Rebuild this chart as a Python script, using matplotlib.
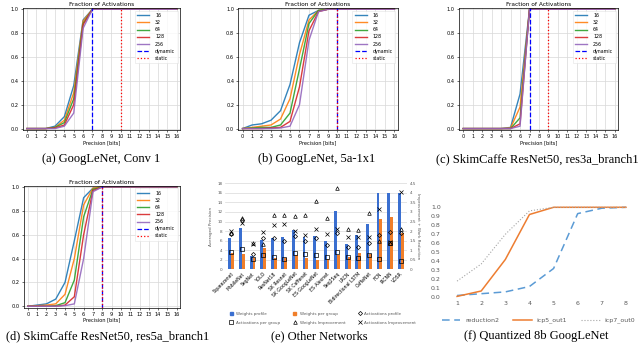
import matplotlib
matplotlib.use('Agg')
import matplotlib.pyplot as plt
from matplotlib.lines import Line2D
from matplotlib.patches import Patch

W, H = 640, 344

bits = [0, 1, 2, 3, 4, 5, 6, 7, 8, 9, 10, 11, 12, 13, 14, 15, 16]
group_labels = ['16', '32', '64', '128', '256']

# (a) GoogLeNet, Conv 1
conv1 = [
    [0, 0, 0, 0.02, 0.10, 0.36, 0.91, 1, 1, 1, 1, 1, 1, 1, 1, 1, 1],
    [0, 0, 0, 0.01, 0.07, 0.30, 0.90, 1, 1, 1, 1, 1, 1, 1, 1, 1, 1],
    [0, 0, 0, 0.01, 0.05, 0.25, 0.88, 1, 1, 1, 1, 1, 1, 1, 1, 1, 1],
    [0, 0, 0, 0.005, 0.03, 0.20, 0.87, 1, 1, 1, 1, 1, 1, 1, 1, 1, 1],
    [0, 0, 0, 0, 0.02, 0.13, 0.84, 1, 1, 1, 1, 1, 1, 1, 1, 1, 1],
]
conv1_dyn, conv1_static = 7, 10

# (b) GoogLeNet, 5a-1x1
inc5a = [
    [0, 0.03, 0.04, 0.07, 0.15, 0.37, 0.72, 0.95, 0.99, 1, 1, 1, 1, 1, 1, 1, 1],
    [0, 0.01, 0.02, 0.03, 0.08, 0.25, 0.62, 0.91, 0.99, 1, 1, 1, 1, 1, 1, 1, 1],
    [0, 0.005, 0.01, 0.01, 0.03, 0.13, 0.50, 0.88, 0.99, 1, 1, 1, 1, 1, 1, 1, 1],
    [0, 0, 0, 0.005, 0.01, 0.06, 0.35, 0.82, 0.98, 1, 1, 1, 1, 1, 1, 1, 1],
    [0, 0, 0, 0, 0.005, 0.02, 0.20, 0.74, 0.98, 1, 1, 1, 1, 1, 1, 1, 1],
]
inc5a_dyn, inc5a_static = 10, 10

# (c) SkimCaffe ResNet50, res3a_branch1
res3a = [
    [0, 0, 0, 0, 0, 0.01, 0.29, 1, 1, 1, 1, 1, 1, 1, 1, 1, 1],
    [0, 0, 0, 0, 0, 0.005, 0.18, 1, 1, 1, 1, 1, 1, 1, 1, 1, 1],
    [0, 0, 0, 0, 0, 0, 0.09, 1, 1, 1, 1, 1, 1, 1, 1, 1, 1],
    [0, 0, 0, 0, 0, 0, 0.04, 1, 1, 1, 1, 1, 1, 1, 1, 1, 1],
    [0, 0, 0, 0, 0, 0, 0.02, 1, 1, 1, 1, 1, 1, 1, 1, 1, 1],
]
res3a_dyn, res3a_static = 7, 9

# (d) SkimCaffe ResNet50, res5a_branch1
res5a = [
    [0, 0.01, 0.02, 0.06, 0.20, 0.55, 0.91, 0.99, 1, 1, 1, 1, 1, 1, 1, 1, 1],
    [0, 0.005, 0.01, 0.02, 0.10, 0.40, 0.85, 0.99, 1, 1, 1, 1, 1, 1, 1, 1, 1],
    [0, 0, 0, 0.005, 0.03, 0.22, 0.75, 0.98, 1, 1, 1, 1, 1, 1, 1, 1, 1],
    [0, 0, 0, 0, 0.01, 0.08, 0.60, 0.97, 1, 1, 1, 1, 1, 1, 1, 1, 1],
    [0, 0, 0, 0, 0.005, 0.02, 0.40, 0.96, 1, 1, 1, 1, 1, 1, 1, 1, 1],
]
res5a_dyn, res5a_static = 8, 8

# (e) other networks
networks = ['Squeezenet', 'MobileNet', 'SegNet', 'YOLO', 'ResNet18', 'SK Resnet',
            'SK GoogLeNet', 'SK Caffenet', 'ES GoogLeNet', 'ES Alexnet', 'Seq2Seq',
            'LRCN', 'Bidirectional LSTM', 'CaffeNet', 'FCN', 'IRCNN', 'VDSR']
weights_profile = [6.5, 8.6, 2.8, 6.1, 6.5, 6.8, 8.2, 6.7, 7.0, 5.9, 12.1, 5.3, 7.2, 9.5, 16, 16, 16]
weights_group = [3.5, 3.2, 2.3, 4.4, 2.4, 2.4, 3.0, 2.3, 2.0, 2.2, 2.9, 2.5, 3.5, 3.2, 10.5, 11.0, 7.5]
acts_profile = [1.85, 2.58, 0.80, 1.62, 1.62, 1.48, 1.73, 1.48, 1.66, 1.26, 1.92, 1.19, 1.15, 1.36, 1.80, 1.97, 1.90]
acts_group = [0.92, 1.06, 0.55, 0.77, 0.63, 0.56, 0.84, 0.80, 0.77, 0.66, 0.89, 0.66, 0.61, 0.75, 0.52, 1.36, 0.45]
weights_impr = [1.90, 2.67, 1.40, 1.33, 2.83, 2.86, 2.77, 2.83, 3.56, 2.67, 4.28, 2.10, 2.06, 2.97, 1.48, 1.40, 2.10]
acts_impr = [2.00, 2.41, 1.30, 1.95, 2.30, 2.36, 2.00, 1.80, 2.13, 1.83, 2.10, 1.68, 1.71, 1.71, 3.14, 1.43, 4.07]

# (f) quantized 8b GoogLeNet
q_bits = [1, 2, 3, 4, 5, 6, 7, 8]
reduction2 = [0.02, 0.04, 0.06, 0.12, 0.32, 0.93, 0.99, 1.0]
icp5_out1 = [0.01, 0.07, 0.42, 0.92, 1.0, 1.0, 1.0, 1.0]
icp7_out0 = [0.18, 0.37, 0.70, 0.96, 1.0, 1.0, 1.0, 1.0]

captions = ['(a) GoogLeNet, Conv 1', '(b) GoogLeNet, 5a-1x1',
            '(c) SkimCaffe ResNet50, res3a_branch1', '(d) SkimCaffe ResNet50, res5a_branch1',
            '(e) Other Networks', '(f) Quantized 8b GoogLeNet']

fig = plt.figure(figsize=(W / 100, H / 100), dpi=100)


def px_axes(l, t, r, b):
    # pixel box -> figure fraction
    return fig.add_axes([l / W, 1 - b / H, (r - l) / W, (b - t) / H])


def fraction_panel(ax, curves, dyn, stat):
    colors = ['#1f77b4', '#ff7f0e', '#2ca02c', '#d62728', '#9467bd']
    for vals, lab, c in zip(curves, group_labels, colors):
        ax.plot(bits, vals, color=c, lw=1.0, label=lab, alpha=0.9, clip_on=False)
    ax.axvline(dyn, color='blue', ls='--', lw=0.9, label='dynamic')
    ax.axvline(stat, color='red', ls=':', lw=0.9, label='static')
    ax.set_xlim(-0.45, 16.35)
    ax.set_ylim(-0.012, 1.008)
    ax.set_xticks(bits)
    ax.set_yticks([0, 0.2, 0.4, 0.6, 0.8, 1.0])
    ax.grid(True, color='#d8d8d8', lw=0.5)
    ax.set_axisbelow(True)
    ax.tick_params(labelsize=3.6, length=1.5, width=0.4, pad=1.5)
    for s in ax.spines.values():
        s.set_linewidth(0.5)
    ax.set_title('Fraction of Activations', fontsize=4.2, pad=1.5)
    ax.set_xlabel('Precision [bits]', fontsize=3.6, labelpad=0.5)
    leg = ax.legend(loc='upper right', fontsize=3.4, handlelength=2.6, handletextpad=1.2,
                    labelspacing=0.45, borderpad=0.5, fancybox=False, framealpha=0.8,
                    edgecolor='#dddddd', borderaxespad=0.5)
    leg.get_frame().set_linewidth(0.4)


ax_a = px_axes(22.7, 8.3, 180, 130)
fraction_panel(ax_a, conv1, conv1_dyn, conv1_static)
ax_b = px_axes(238.3, 8.3, 397.7, 130)
fraction_panel(ax_b, inc5a, inc5a_dyn, inc5a_static)
ax_c = px_axes(459, 8.3, 618, 130)
fraction_panel(ax_c, res3a, res3a_dyn, res3a_static)
ax_d = px_axes(23.6, 186, 180, 307.7)
fraction_panel(ax_d, res5a, res5a_dyn, res5a_static)

# (e) bars + markers on a second axis
ax_e = px_axes(225, 183.3, 407, 269.3)
x = list(range(len(networks)))
bw = 0.27
ax_e.bar([i - bw / 2 for i in x], weights_profile, bw, color='#3a6fd0', zorder=2)
ax_e.bar([i + bw / 2 for i in x], weights_group, bw, color='#f07f2a', zorder=2)
ax_e.set_xlim(-0.6, 16.6)
ax_e.set_ylim(0, 18)
ax_e.set_yticks(range(0, 19, 2))
ax_e.yaxis.grid(True, color='#d9d9d9', lw=0.5)
ax_e.set_axisbelow(True)
for s in ax_e.spines.values():
    s.set_visible(False)
ax_e.set_xticks(x)
ax_e.set_xticklabels(networks, rotation=45, ha='right', rotation_mode='anchor')
ax_e.tick_params(axis='x', labelsize=3.3, length=0, pad=1.5)
ax_e.tick_params(axis='y', labelsize=3, length=0, pad=2, labelcolor='#595959')
ax_e.set_ylabel('Averaged Precision', fontsize=3, color='#595959', labelpad=3)

ax_e2 = ax_e.twinx()
mk = dict(ls='none', mfc='none', mec='black', mew=0.5, ms=2.6)
ax_e2.plot(x, acts_profile, marker='D', **dict(mk, ms=2.1))
ax_e2.plot(x, acts_group, marker='s', **mk)
ax_e2.plot(x, weights_impr, marker='^', **mk)
ax_e2.plot(x, acts_impr, marker='x', **mk)
ax_e2.set_ylim(0, 4.5)
ax_e2.set_yticks([0, 0.5, 1, 1.5, 2, 2.5, 3, 3.5, 4, 4.5])
ax_e2.set_yticklabels(['0', '0.5', '1', '1.5', '2', '2.5', '3', '3.5', '4', '4.5'])
ax_e2.tick_params(axis='y', labelsize=3, length=0, pad=2, labelcolor='#595959')
for s in ax_e2.spines.values():
    s.set_visible(False)
ax_e2.set_ylabel('Improvement + Work Reduction', fontsize=3, color='#595959',
                 rotation=270, labelpad=2.5)

handles = [Patch(color='#3a6fd0'), Patch(color='#f07f2a'),
           Line2D([], [], marker='D', **dict(mk, ms=2.1)),
           Line2D([], [], marker='s', **mk),
           Line2D([], [], marker='^', **mk),
           Line2D([], [], marker='x', **mk)]
labels = ['Weights profile', 'Weights per group', 'Activations profile',
          'Activations per group', 'Weights Improvement', 'Activations Improvement']
# column order: fill row-wise
order = [0, 3, 1, 4, 2, 5]
fig.legend([handles[i] for i in order], [labels[i] for i in order], ncol=3,
           loc='upper left', bbox_to_anchor=(226 / W, 1 - 308 / H), frameon=False,
           fontsize=3, handlelength=0.8, handleheight=0.8, handletextpad=0.8,
           columnspacing=3.0, labelspacing=1.2, labelcolor='#595959')

# (f) Excel style line chart
ax_f = px_axes(445, 207.3, 632, 297.3)
ax_f.plot(q_bits, reduction2, color='#5b9bd5', ls=(0, (5, 3)), lw=1.1, label='reduction2', clip_on=False)
ax_f.plot(q_bits, icp5_out1, color='#ed7d31', lw=1.1, label='icp5_out1', clip_on=False)
ax_f.plot(q_bits, icp7_out0, color='#a5a5a5', ls=':', lw=0.8, label='icp7_out0', clip_on=False)
ax_f.set_xlim(0.5, 8.25)
ax_f.set_ylim(0, 1.0)
ax_f.set_xticks(q_bits)
ax_f.set_yticks([0, 0.1, 0.2, 0.3, 0.4, 0.5, 0.6, 0.7, 0.8, 0.9, 1.0])
ax_f.set_yticklabels(['0.0', '0.1', '0.2', '0.3', '0.4', '0.5', '0.6', '0.7', '0.8', '0.9', '1.0'])
ax_f.tick_params(labelsize=4.5, length=0, labelcolor='#595959', pad=3)
for s in ax_f.spines.values():
    s.set_visible(False)
ax_f.legend(ncol=3, loc='upper center', bbox_to_anchor=(0.5, -0.16), frameon=False,
            fontsize=4.5, handlelength=3, columnspacing=2.2, labelcolor='#595959')

# captions under each panel
cap_pos = [(101, 159), (317, 159), (537, 159), (108, 336), (319, 336), (536, 336)]
for txt, (cx, cy) in zip(captions, cap_pos):
    fig.text(cx / W, 1 - cy / H, txt, ha='center', va='center',
             fontsize=9, family='Liberation Serif')

fig.savefig('out.png', dpi=100)
